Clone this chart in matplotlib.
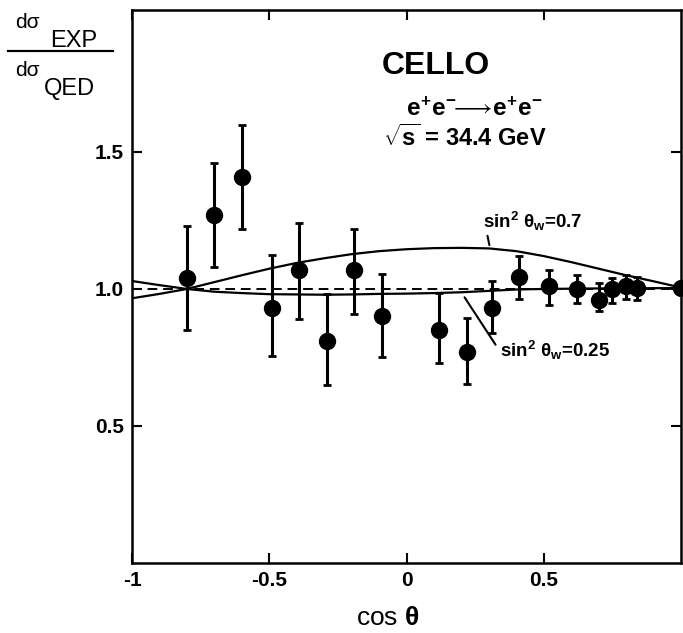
"""
CELLO: Bhabha-Streuung e+e- -> e+e- bei sqrt(s) = 34.4 GeV, Verhaeltnis zu QED.
"""
import matplotlib
matplotlib.use("Agg")
import matplotlib.pyplot as plt
from matplotlib.lines import Line2D

plt.rcParams["font.family"] = ["Liberation Sans", "DejaVu Sans"]
plt.rcParams["axes.unicode_minus"] = False
plt.rcParams["mathtext.fontset"] = "custom"
plt.rcParams["mathtext.rm"] = "Liberation Sans:bold"
plt.rcParams["mathtext.it"] = "Liberation Sans:bold"
plt.rcParams["mathtext.bf"] = "Liberation Sans:bold"

NARROW = ["Liberation Sans Narrow", "Liberation Sans", "DejaVu Sans"]

# Messpunkte
cos_theta = [-0.80, -0.70, -0.60, -0.49, -0.39, -0.29, -0.19, -0.09, 0.12, 0.22,
             0.31, 0.41, 0.52, 0.62, 0.70, 0.75, 0.80, 0.84, 1.00]
ratio = [1.04, 1.27, 1.41, 0.93, 1.07, 0.81, 1.07, 0.90, 0.85, 0.77,
         0.93, 1.045, 1.01, 1.00, 0.96, 1.00, 1.01, 1.005, 1.005]
err_up = [0.19, 0.19, 0.19, 0.195, 0.17, 0.17, 0.15, 0.155, 0.135, 0.125,
          0.10, 0.075, 0.06, 0.05, 0.06, 0.04, 0.04, 0.04, 0.0]
err_down = [0.19, 0.19, 0.19, 0.175, 0.18, 0.16, 0.16, 0.15, 0.12, 0.115,
            0.09, 0.08, 0.07, 0.05, 0.04, 0.05, 0.045, 0.045, 0.0]

# Theoriekurven
curve_x = [-1.0, -0.9, -0.8, -0.7, -0.6, -0.5, -0.4, -0.3, -0.2, -0.1, 0.0,
           0.1, 0.2, 0.3, 0.4, 0.5, 0.6, 0.7, 0.8, 0.9, 1.0]
sin2_07 = [0.966, 0.982, 1.000, 1.025, 1.050, 1.074, 1.095, 1.112, 1.127, 1.138, 1.145,
           1.149, 1.150, 1.148, 1.138, 1.120, 1.098, 1.074, 1.050, 1.028, 1.005]
sin2_025 = [1.029, 1.014, 1.000, 0.990, 0.985, 0.981, 0.980, 0.979, 0.980, 0.982, 0.983,
            0.985, 0.988, 0.993, 0.998, 1.000, 1.001, 1.002, 1.002, 1.003, 1.003]
qed_x = [-1.0, 1.0]
qed_y = [1.0, 1.0]

x_ticks = [-1, -0.5, 0, 0.5]
x_tick_labels = ["-1", "-0.5", "0", "0.5"]
y_ticks = [0.5, 1.0, 1.5]
y_tick_labels = ["0.5", "1.0", "1.5"]

W, H = 683, 633
fig = plt.figure(figsize=(W / 100, H / 100), dpi=100)
ax = fig.add_axes([132 / W, 1 - 563 / H, (681 - 132) / W, (563 - 10) / H])
ax.set_xlim(-1, 1)
ax.set_ylim(0, 2.018)

ax.plot(curve_x, sin2_07, color="black", lw=1.6)
ax.plot(curve_x, sin2_025, color="black", lw=1.6)
ax.plot(qed_x, qed_y, color="black", lw=1.4, ls=(0, (5, 3)))

ax.errorbar(cos_theta, ratio, yerr=[err_down, err_up], fmt="o", color="black",
            ms=11.5, elinewidth=2.2, capsize=2.9, capthick=2, clip_on=False, zorder=5)

# Beschriftungen der Kurven
ax.annotate("", xy=(0.304, 1.150), xytext=(0.293, 1.204),
            arrowprops=dict(arrowstyle="-", color="black", lw=1.5))
ax.text(0.279, 1.248, r"sin$^2$ $\theta_{w}$=0.7", fontsize=13.5, family=NARROW,
        weight="bold", ha="left", va="center")
ax.annotate("", xy=(0.206, 0.978), xytext=(0.330, 0.788),
            arrowprops=dict(arrowstyle="-", color="black", lw=1.5))
ax.text(0.341, 0.777, r"sin$^2$ $\theta_{w}$=0.25", fontsize=13.5, family=NARROW,
        weight="bold", ha="left", va="center")

ax.text(0.107, 1.814, "CELLO", fontsize=23, weight="bold", ha="center", va="center")
ax.text(0.248, 1.657, r"$e^{+}e^{-}\!\!\longrightarrow\!e^{+}e^{-}$", fontsize=17.5,
        ha="center", va="center")
ax.text(0.213, 1.551, r"$\sqrt{s}$ = 34.4 GeV", fontsize=17, family=NARROW,
        weight="bold", ha="center", va="center")

# Achsen
for side in ["left", "right", "top", "bottom"]:
    ax.spines[side].set_linewidth(1.8)
ax.set_xticks(x_ticks)
ax.set_xticklabels(x_tick_labels)
ax.set_yticks(y_ticks)
ax.set_yticklabels(y_tick_labels)
ax.tick_params(direction="in", length=7, width=1.5, top=True, right=True,
               labelsize=15, pad=6)
for lab in ax.get_xticklabels() + ax.get_yticklabels():
    lab.set_fontweight("bold")

fig.text(388 / W, 1 - 618 / H, r"cos $\theta$", fontsize=19, ha="center", va="center")

# y-Achsenbeschriftung als Bruch
fig.text(15 / W, 1 - 28 / H, "dσ", fontsize=15, ha="left", va="baseline")
fig.text(50 / W, 1 - 47 / H, "EXP", fontsize=17, ha="left", va="baseline")
fig.add_artist(Line2D([8 / W, 113 / W], [1 - 51 / H, 1 - 51 / H], color="black", lw=1.6))
fig.text(15 / W, 1 - 76 / H, "dσ", fontsize=15, ha="left", va="baseline")
fig.text(44 / W, 1 - 95 / H, "QED", fontsize=17, ha="left", va="baseline")

fig.savefig("out.png", dpi=100)
